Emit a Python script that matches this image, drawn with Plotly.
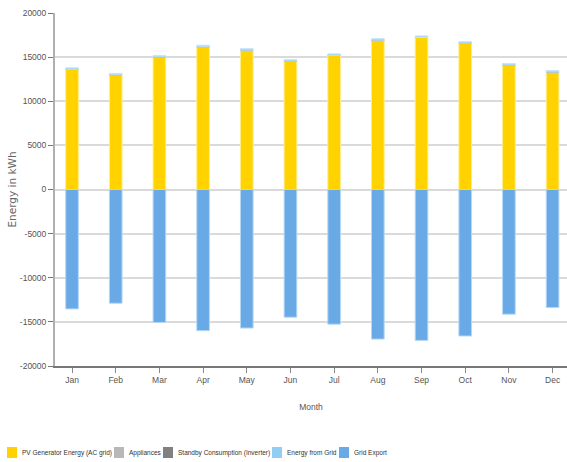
import plotly.graph_objects as go

months = ["Jan", "Feb", "Mar", "Apr", "May", "Jun", "Jul", "Aug", "Sep", "Oct", "Nov", "Dec"]
pv_generator = [13620, 13000, 15030, 16180, 15800, 14560, 15200, 16930, 17230, 16590, 14110, 13320]
appliances = [0, 0, 0, 0, 0, 0, 0, 0, 0, 0, 0, 0]
standby = [0, 0, 0, 0, 0, 0, 0, 0, 0, 0, 0, 0]
energy_from_grid = [170, 160, 160, 170, 170, 170, 170, 170, 170, 170, 170, 170]
grid_export = [-13530, -12890, -15070, -16000, -15700, -14470, -15260, -16950, -17100, -16600, -14130, -13380]

y_tick_values = [20000, 15000, 10000, 5000, 0, -5000, -10000, -15000, -20000]
y_tick_labels = ["20000", "15000", "10000", "5000", "0", "-5000", "-10000", "-15000", "-20000"]

series_names = ["PV Generator Energy (AC grid)", "Appliances", "Standby Consumption (Inverter)",
                "Energy from Grid", "Grid Export"]
series_values = [pv_generator, appliances, standby, energy_from_grid, grid_export]
series_colors = ["#FFD200", "#B8B8B8", "#808080", "#92CDF5", "#69AAE6"]
series_edges = ["#FFEE8A", "#D0D0D0", "#A0A0A0", "#C6E6FB", "#B5D8F6"]

sans = "Liberation Sans, Arial, sans-serif"
bw = 0.29

fig = go.Figure()
for name, vals, col, edge in zip(series_names, series_values, series_colors, series_edges):
    fig.add_trace(go.Bar(name=name, x=months, y=vals, width=bw,
                         marker=dict(color=col, line=dict(color=edge, width=1))))

# plot area in pixels: left 55, right 567, top 13, bottom 366
L, R, T, B = 55, 567, 13, 366
def px_x(p):
    return (p - L) / (R - L)
def px_y(p):
    return (B - p) / (B - T)

legend_square_x = [7, 114, 163, 272, 339]
legend_text_x = [20, 127, 176, 285, 352]
shapes = []
annotations = []
for name, col, sx, tx in zip(series_names, series_colors, legend_square_x, legend_text_x):
    shapes.append(dict(type="rect", xref="paper", yref="paper",
                       x0=px_x(sx), x1=px_x(sx + 10), y0=px_y(458), y1=px_y(447),
                       fillcolor=col, line=dict(width=0)))
    annotations.append(dict(text=name, xref="paper", yref="paper", x=px_x(tx), y=px_y(452.5),
                            xanchor="left", yanchor="middle", showarrow=False,
                            font=dict(family=sans, size=6.5, color="#333333")))

fig.update_layout(
    width=567, height=462,
    barmode="relative",
    plot_bgcolor="white", paper_bgcolor="white",
    margin=dict(l=L, r=567 - R, t=T, b=462 - B),
    font=dict(family=sans, size=8.5, color="#555555"),
    showlegend=False,
    shapes=shapes,
    annotations=annotations,
    xaxis=dict(type="category", range=[-0.39, 11.33], showgrid=False,
               showline=True, linecolor="#777777", linewidth=2,
               ticks="outside", ticklen=5, tickcolor="#888888",
               title=dict(text="Month", standoff=20, font=dict(family=sans, size=8.5, color="#555555")),
               tickfont=dict(size=8.5, color="#555555")),
    yaxis=dict(range=[-20000, 20000], tickmode="array", tickvals=y_tick_values, ticktext=y_tick_labels,
               showgrid=True, gridcolor="#DADADA", gridwidth=1.5,
               zeroline=True, zerolinecolor="#DADADA", zerolinewidth=1.5,
               showline=True, linecolor="#B0B0B0", linewidth=2,
               ticks="outside", ticklen=5, tickcolor="#777777",
               title=dict(text="Energy in kWh", standoff=1,
                          font=dict(family="DejaVu Sans, sans-serif", size=10.5, color="#666666")),
               tickfont=dict(size=8.5, color="#555555")),
)

fig.write_html("out.html")
